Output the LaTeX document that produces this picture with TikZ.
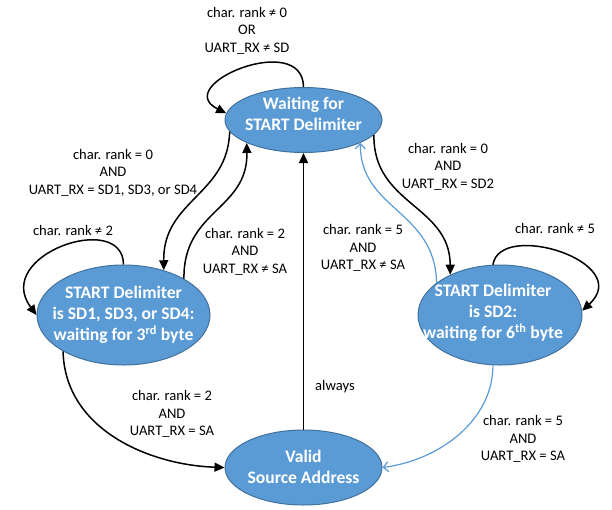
\documentclass[tikz,border=0pt]{standalone}
\usepackage{fontspec}
\setmainfont{Carlito}
\usetikzlibrary{shapes.geometric,arrows.meta}
\definecolor{stfill}{HTML}{5B9BD5}
\definecolor{stedge}{HTML}{41719C}
\definecolor{bluearrow}{HTML}{5B9BD5}
\begin{document}
\begin{tikzpicture}[x=1pt,y=-1pt,
 state/.style={ellipse, fill=stfill, draw=stedge, line width=1pt, inner sep=0pt},
 sttext/.style={text=white, font=\fontsize{17.6}{21}\selectfont\bfseries, align=center, inner sep=0pt},
 cond/.style={align=center, font=\fontsize{14.6}{17.5}\selectfont, inner sep=0pt},
 blk/.style={draw=black, line width=1.5pt, -{Triangle[length=10pt,width=9pt]}},
 blu/.style={draw=bluearrow, line width=1.2pt, -{Straight Barb[length=5pt,width=10pt]}}
]
\useasboundingbox (0,0) rectangle (612,509);
\node[state, minimum width=157pt, minimum height=65pt,
  label={[sttext, yshift=6pt]center:{Waiting for\\START Delimiter}}] (wait) at (303.5,120) {};
\node[state, minimum width=173pt, minimum height=100pt,
  label={[sttext]center:{START Delimiter\\is SD1, SD3, or SD4:\\waiting for 3\textsuperscript{rd} byte}}] (sda) at (123.5,315) {};
\node[state, minimum width=164pt, minimum height=100pt,
  label={[sttext, xshift=-7pt, yshift=2pt]center:{START Delimiter\\is SD2:\\waiting for 6\textsuperscript{th} byte}}] (sdb) at (500,315) {};
\node[state, minimum width=157pt, minimum height=75pt,
  label={[sttext, yshift=1pt]center:{Valid\\Source Address}}] (valid) at (303.5,467.5) {};

\draw[blk] (wait.90) .. controls (303,30) and (170,85) .. (wait.175);
\draw[blk] (wait.189) .. controls (228,195) and (163,200) .. (sda.48);
\draw[blk] (sda.31) .. controls (183,210) and (248,210) .. (wait.202);
\draw[blk] (wait.-12) .. controls (373,205) and (450,205) .. (sdb.141);
\draw[blu] (sdb.153) .. controls (435,210) and (360,210) .. (wait.-22);
\draw[blk] (sdb.98) .. controls (500,220) and (635,262) .. (sdb.3);
\draw[blk] (sda.90) .. controls (123,210) and (-8,255) .. (sda.180);
\draw[blk] (sda.211) .. controls (65,430) and (150,465) .. (valid.180);
\draw[blu] (sdb.-98) .. controls (493,420) and (440,460) .. (valid.0);
\draw[blk] (valid.90) -- (wait.-90);

\node[cond] (c1) at (247,30.5) {char. rank ≠ 0\\OR\\UART\_RX ≠ SD};
\node[cond] (c2) at (113,172.5) {char. rank = 0\\AND\\UART\_RX = SD1, SD3, or SD4};
\node[cond] (c3) at (245,251.5) {char. rank = 2\\AND\\UART\_RX ≠ SA};
\node[cond] (c4) at (448,166.5) {char. rank = 0\\AND\\UART\_RX = SD2};
\node[cond] (c5) at (363,248) {char. rank = 5\\AND\\UART\_RX ≠ SA};
\node[cond] (c6) at (555,228) {char. rank ≠ 5};
\node[cond] (c7) at (73,230) {char. rank ≠ 2};
\node[cond] (c8) at (172,414) {char. rank = 2\\AND\\UART\_RX = SA};
\node[cond] (c9) at (523,439) {char. rank = 5\\AND\\UART\_RX = SA};
\node[cond] (c10) at (335,387) {always};
\end{tikzpicture}
\end{document}
